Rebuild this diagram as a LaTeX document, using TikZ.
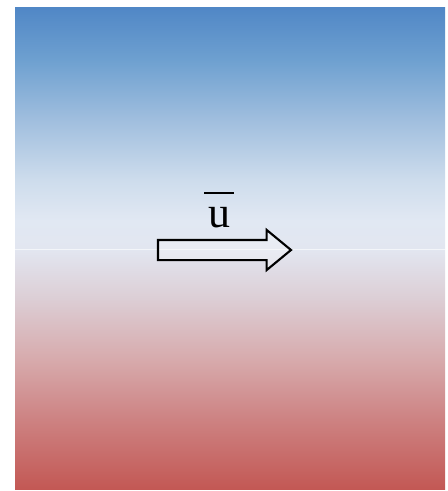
\documentclass[tikz,border=0pt]{standalone}
\usepackage{fontspec}
\setmainfont{Liberation Serif}
\usepackage{tikz}
\usetikzlibrary{positioning,shapes.arrows}
\usepackage{xcolor}

\definecolor{flowtop}{RGB}{80,135,198}
\definecolor{flowred}{RGB}{195,88,84}

\pgfdeclareverticalshading{shear}{100bp}{
  color(0bp)=(flowred);
  color(25bp)=(flowred);
  color(32.2bp)=(rgb,255:red,205;green,130;blue,130);
  color(38.4bp)=(rgb,255:red,215;green,170;blue,172);
  color(44.6bp)=(rgb,255:red,220;green,205;blue,212);
  color(49.8bp)=(rgb,255:red,226;green,230;blue,240);
  color(52.9bp)=(rgb,255:red,225;green,232;blue,243);
  color(57.1bp)=(rgb,255:red,205;green,220;blue,236);
  color(63.3bp)=(rgb,255:red,160;green,190;blue,222);
  color(69.5bp)=(rgb,255:red,110;green,160;blue,208);
  color(75bp)=(flowtop);
  color(100bp)=(flowtop)}

\newcommand{\meanbar}[1]{%
  \makebox[0pt][l]{\raisebox{0.66cm}{\rule{0.6cm}{1.3pt}}}\makebox[0.6cm]{#1}}

\begin{document}
\begin{tikzpicture}[
    x=0.02cm, y=-0.02cm,
    >=stealth,
    flow/.style={shading=shear, draw=none},
    seam/.style={draw=white, opacity=0.6, line width=0.5pt},
    vel/.style={single arrow, draw=black, line width=1.2pt, fill=white, fill opacity=0.25,
                inner xsep=0pt, inner ysep=0.18cm, outer sep=0pt, minimum height=2.66cm,
                single arrow head extend=0.2cm, single arrow tip angle=79},
    lbl/.style={font=\fontsize{25}{28}\selectfont, inner sep=0pt}
]
\useasboundingbox (0,0) rectangle (448,491);

% --- Background flow ---
\shade[flow] (15,7) rectangle (445,489);
\coordinate (sl) at (15,249);
\coordinate (sr) at (445,249);
\draw[seam] (sl) -- (sr);

% --- Mean velocity ---
\node[vel, anchor=tip] (arr) at (291,250) {};
\node[lbl, anchor=base] (ubar) at (219,227) {\meanbar{u}};

\end{tikzpicture}
\end{document}
